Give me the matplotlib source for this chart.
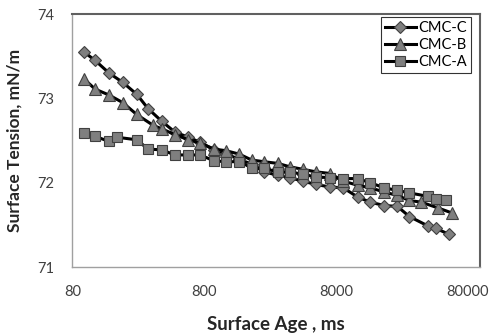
import matplotlib
matplotlib.use("Agg")
import matplotlib.pyplot as plt
from matplotlib.ticker import FixedLocator, NullLocator, FixedFormatter

plt.rcParams['font.family'] = ['Lato', 'DejaVu Sans']

# CMC-C (diamonds)
x_c = [98, 119, 152, 193, 246, 300, 381, 481, 608, 746, 953, 1176, 1477, 1838, 2268,
       2898, 3575, 4488, 5636, 7265, 9120, 11760, 14640, 18704, 23488, 28976, 39920, 46096, 57664]
y_c = [73.55, 73.45, 73.30, 73.19, 73.05, 72.88, 72.73, 72.60, 72.54, 72.48, 72.39, 72.34,
       72.28, 72.22, 72.13, 72.09, 72.06, 72.02, 71.98, 71.95, 71.94, 71.83, 71.77, 71.73,
       71.72, 71.60, 71.49, 71.46, 71.39]

# CMC-B (triangles)
x_b = [98, 119, 152, 193, 246, 329, 381, 481, 608, 746, 953, 1176, 1477, 1838, 2268,
       2898, 3575, 4488, 5636, 7265, 9120, 11760, 14640, 18704, 23488, 28976, 35752, 48160, 61536]
y_b = [73.23, 73.11, 73.04, 72.95, 72.81, 72.68, 72.64, 72.57, 72.51, 72.47, 72.40, 72.38,
       72.34, 72.27, 72.25, 72.23, 72.19, 72.16, 72.13, 72.11, 72.02, 71.97, 71.94, 71.89,
       71.85, 71.79, 71.77, 71.70, 71.64]

# CMC-A (squares)
x_a = [98, 119, 152, 174, 246, 300, 381, 481, 608, 746, 953, 1176, 1477, 1838, 2268,
       2898, 3575, 4488, 5636, 7265, 9120, 11760, 14640, 18704, 23488, 28976, 39920, 46096, 55384]
y_a = [72.59, 72.55, 72.49, 72.54, 72.51, 72.40, 72.39, 72.33, 72.33, 72.33, 72.26, 72.25,
       72.25, 72.18, 72.17, 72.13, 72.13, 72.10, 72.07, 72.06, 72.05, 72.05, 72.00, 71.94,
       71.91, 71.88, 71.84, 71.81, 71.79]

x_ticks = [80, 800, 8000, 80000]
x_tick_labels = ["80", "800", "8000", "80000"]
y_ticks = [71, 72, 73, 74]

fig = plt.figure(figsize=(4.93, 3.36), dpi=100)
ax = fig.add_axes([0.147, 0.205, 0.827, 0.753])

mk = dict(color='black', lw=2.2, markerfacecolor='#7f7f7f', markeredgecolor='#404040',
          markeredgewidth=0.8)
ax.plot(x_c, y_c, marker='D', markersize=6, label='CMC-C', **mk)
ax.plot(x_b, y_b, marker='^', markersize=8.5, label='CMC-B', **mk)
ax.plot(x_a, y_a, marker='s', markersize=6.5, label='CMC-A', **mk)

ax.set_xscale('log')
ax.set_xlim(80, 100000)
ax.set_ylim(71, 74)
ax.xaxis.set_major_locator(FixedLocator(x_ticks))
ax.xaxis.set_major_formatter(FixedFormatter(x_tick_labels))
ax.xaxis.set_minor_locator(NullLocator())
ax.set_yticks(y_ticks)
ax.tick_params(axis='both', length=0, labelsize=10.5, labelcolor='#404040')
ax.tick_params(axis='x', pad=13)
ax.tick_params(axis='y', pad=13)

for s in ['top', 'right']:
    ax.spines[s].set_color('#606060')
    ax.spines[s].set_linewidth(1.5)
for s in ['left', 'bottom']:
    ax.spines[s].set_color('#a0a0a0')
    ax.spines[s].set_linewidth(1.0)

ax.set_xlabel('Surface Age , ms', fontsize=13.5, fontweight='bold', color='#262626', labelpad=12)
ax.set_ylabel('Surface Tension, mN/m', fontsize=12.5, fontweight='bold', color='#262626', labelpad=11)

leg = ax.legend(loc='upper right', bbox_to_anchor=(0.977, 0.989), fontsize=10.5, frameon=True,
                fancybox=False, edgecolor='black', borderpad=0.3, handlelength=2.1,
                handletextpad=0.15, labelspacing=0.2, borderaxespad=0.0)
leg.get_frame().set_linewidth(0.8)

fig.savefig('out.png', dpi=100)
